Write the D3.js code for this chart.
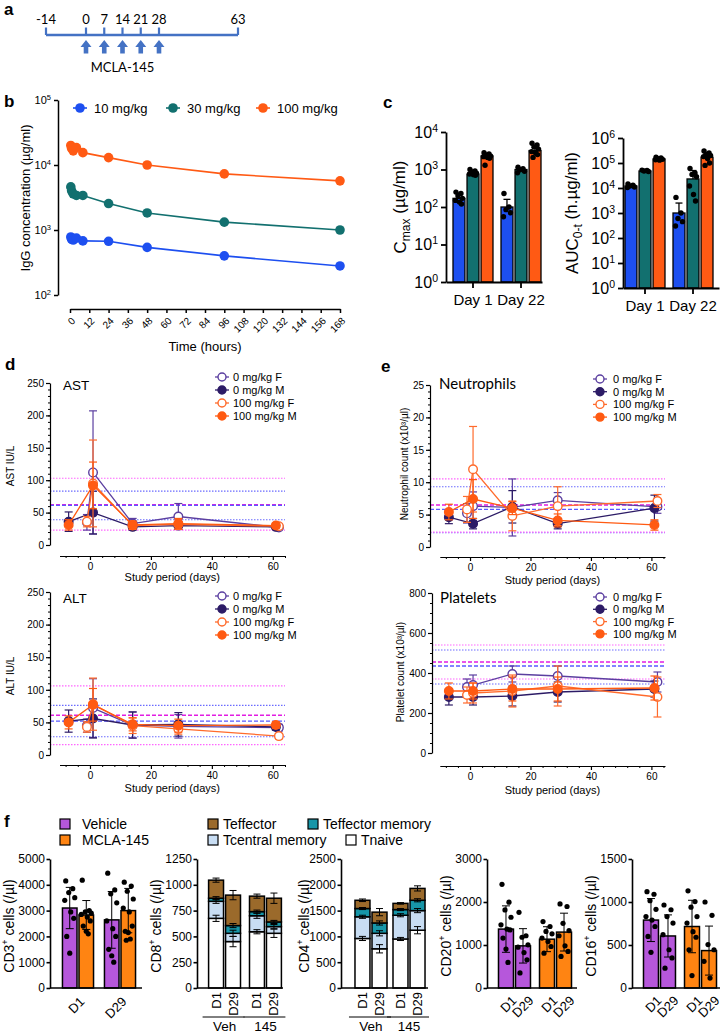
<!DOCTYPE html>
<html>
<head>
<meta charset="utf-8">
<script src="https://cdn.jsdelivr.net/npm/d3@7/dist/d3.min.js"></script>
<style>
html,body{margin:0;padding:0;background:#fff;}
svg{display:block;}
</style>
</head>
<body>
<svg id="fig" width="724" height="1035"></svg>
<script>
// ================= DATA =================
// panel a
const timelineDays = [-14, 0, 7, 14, 21, 28, 63];
const doseDays = [0, 7, 14, 21, 28];
const doseLabel = "MCLA-145";
// panel b
const pkHours = [0.5, 1, 2, 4, 8, 24, 48, 96, 168];
const pkDoses = ["10 mg/kg", "30 mg/kg", "100 mg/kg"];
const pk10 = [780, 720, 700, 750, 680, 670, 540, 400, 280];
const pk30 = [4600, 4000, 3600, 3400, 3400, 2550, 1830, 1320, 1000];
const pk100 = [20000, 18000, 16500, 18500, 15500, 13000, 10000, 7300, 5700];
const timeTicks = [0, 12, 24, 36, 48, 60, 72, 84, 96, 108, 120, 132, 144, 156, 168];
// panel c
const pkDays = ["Day 1", "Day 22"];
const cmaxMean = [[170, 750, 2300], [100, 1000, 3200]];
const cmaxUpper = [[235, 850, 2550], [160, 1100, 3900]];
const cmaxDots = [
  [[250, 230, 200, 170, 150, 135, 120], [1000, 920, 860, 800, 760, 730, 700], [2800, 2600, 2450, 2300, 2200, 2100, 2000, 1300]],
  [[230, 100, 85, 70, 55], [1150, 1050, 980, 900, 820], [5000, 4500, 4000, 3500, 3000, 2800, 2500, 2100]]
];
const aucMean = [[12000, 48000, 145000], [1000, 23000, 170000]];
const aucUpper = [[13500, 51000, 160000], [2500, 50000, 260000]];
const aucDots = [
  [[14500, 13000, 12000, 11000, 10500], [52000, 50000, 48000, 46000], [170000, 160000, 150000, 140000, 135000, 130000]],
  [[4200, 1000, 600, 450, 300], [60000, 40000, 35000, 28000, 12000, 5500, 3000], [300000, 250000, 220000, 200000, 180000, 150000, 100000, 80000]]
];
// panels d / e
const clinGroups = ["0 mg/kg F", "0 mg/kg M", "100 mg/kg F", "100 mg/kg M"];
const daysF = [-1, 1, 14, 29, 62];
const daysM = [-7, 1, 14, 29, 61];
const astMean = [[35, 112, 33, 44, 27], [36, 50, 28, 30, 28], [36, 95, 30, 32, 29], [31, 92, 31, 33, 30]];
const astSd = [[12, 95, 8, 20, 3], [15, 33, 5, 6, 3], [8, 67, 6, 8, 4], [8, 36, 6, 8, 4]];
const altMean = [[45, 72, 46, 44, 42], [52, 56, 46, 47, 43], [43, 78, 45, 40, 29], [50, 77, 47, 45, 46]];
const altSd = [[10, 45, 20, 18, 5], [17, 30, 20, 18, 5], [8, 40, 12, 8, 4], [10, 25, 10, 10, 5]];
const neuMean = [[5.2, 6.3, 6.1, 7.2, 6.2], [4.6, 3.6, 6.2, 3.6, 6.0], [5.8, 12.0, 4.8, 6.3, 7.1], [5.4, 7.4, 6.0, 4.1, 3.4]];
const neuSd = [[1.5, 2.2, 4.4, 1.2, 1.0], [1.0, 0.8, 2.5, 0.8, 2.0], [2.0, 6.6, 2.3, 3.0, 1.0], [1.2, 3.0, 1.0, 1.0, 0.8]];
const pltMean = [[330, 340, 395, 385, 355], [280, 280, 285, 305, 320], [290, 300, 310, 335, 280], [310, 310, 320, 320, 325]];
const pltSd = [[40, 50, 40, 50, 50], [40, 40, 50, 50, 40], [40, 50, 80, 100, 100], [40, 40, 60, 60, 60]];
const refKinds = ["pinkDot", "blueDot", "magDash", "blueDash", "blueDot", "pinkDot"];
const astRef = [103, 83, 62, 61, 39, 23];
const altRef = [106, 76, 61, 52, 28, 16];
const neuRef = [10.5, 9.3, 6.5, 5.8, 2.2, 2.3];
const pltRef = [540, 515, 455, 435, 345, 370];
// panel f
const treatments = ["Vehicle", "MCLA-145"];
const cellTimes = ["D1", "D29"];
const stackGroups = ["Veh", "145"];
const subsets = ["Tnaive", "Tcentral memory", "Teffector memory", "Teffector"];
const cd3Mean = [[3100, 2830], [2640, 3000]];      // [time][treatment]
const cd3Sd = [[800, 560], [1100, 860]];
const cd3Dots = [
  [[4150, 3850, 3700, 3500, 3400, 2950, 2700, 2000, 1350], [4180, 3000, 2950, 2900, 2850, 2750, 2600, 2400, 2200, 2100]],
  [[4450, 3800, 3650, 3300, 2600, 2300, 2000, 1500, 1250, 1000], [4100, 3950, 3750, 3450, 3100, 2950, 2400, 2200, 2150, 1900, 1850]]
];
const cd8Stack = [[675, 165, 30, 175], [450, 80, 75, 295], [545, 155, 40, 150], [530, 65, 45, 230]]; // Veh D1, Veh D29, 145 D1, 145 D29
const cd8Err = [[30, 20, 15, 20], [50, 30, 20, 45], [20, 25, 15, 20], [40, 20, 15, 50]];
const cd4Stack = [[960, 420, 160, 160], [760, 300, 200, 210], [950, 460, 110, 120], [1120, 380, 200, 230]];
const cd4Err = [[40, 30, 20, 25], [80, 50, 40, 70], [30, 30, 20, 15], [70, 40, 30, 50]];
const cd20Mean = [[1370, 980], [1135, 1300]];     // [treatment][time]
const cd20Sd = [[540, 400], [290, 440]];
const cd20Dots = [
  [[2410, 1995, 1815, 1645, 1470, 1370, 1350, 1160, 905, 595], [1760, 1215, 1180, 1005, 950, 825, 655, 350]],
  [[1545, 1430, 1315, 1260, 1160, 1080, 965, 810], [1955, 1895, 1505, 1335, 1215, 980, 850, 735]]
];
const cd16Mean = [[790, 605], [715, 435]];
const cd16Sd = [[250, 245], [305, 285]];
const cd16Dots = [
  [[1120, 1090, 1015, 915, 830, 790, 715, 600, 415], [965, 910, 830, 755, 620, 445, 350, 230]],
  [[1130, 1005, 940, 830, 755, 655, 590, 445, 145], [1000, 845, 505, 445, 310, 115]]
];

// ================= HELPERS =================
const svg = d3.select("#fig");
svg.append("rect").attr("width", 724).attr("height", 1035).attr("fill", "#fff");
const FONT = "'Liberation Sans', Arial, Helvetica, sans-serif";
const CAL = "Lato, 'Noto Sans', sans-serif";
const plain = d3.format("d");

function txt(g, x, y, s, o = {}) {
  return g.append("text").attr("x", x).attr("y", y)
    .attr("font-family", o.family || FONT).attr("font-size", o.size || 12)
    .attr("font-weight", o.weight || "normal").attr("text-anchor", o.anchor || "start")
    .attr("fill", o.fill || "#000").text(s);
}
function rtxt(g, x, y, s, o = {}) {
  return g.append("text").attr("transform", `translate(${x},${y}) rotate(${o.rot || -90})`)
    .attr("font-family", o.family || FONT).attr("font-size", o.size || 12)
    .attr("text-anchor", o.anchor || "middle").attr("fill", "#000").text(s);
}
function styleAxis(ax, fs, sw, fam) {
  ax.attr("font-family", fam || FONT).attr("font-size", fs);
  ax.select(".domain").attr("stroke-width", sw).attr("stroke", "#000");
  ax.selectAll(".tick line").attr("stroke-width", sw).attr("stroke", "#000");
  ax.selectAll(".tick text").attr("fill", "#000");
}
function powTicks(ax, supSize) {
  ax.selectAll(".tick text").each(function (d) {
    const t = d3.select(this);
    t.text("10");
    t.append("tspan").attr("dy", "-0.55em").attr("font-size", supSize).text(Math.round(Math.log10(d)));
  });
}

// panel letters
[["a", 4, 15], ["b", 4, 107], ["c", 383, 108], ["d", 5, 370], ["e", 381, 372], ["f", 4, 827]]
  .forEach(([l, x, y]) => txt(svg, x, y, l, { size: 17, weight: "bold" }));

// ================= PANEL A =================
(function () {
  const g = svg.append("g");
  const blue = "#4472C4";
  const s = d3.scaleLinear().domain([-14, 0, 28, 63]).range([46, 86, 159, 238]);
  g.append("line").attr("x1", s(-14)).attr("x2", s(63)).attr("y1", 35).attr("y2", 35)
    .attr("stroke", blue).attr("stroke-width", 2.6);
  g.selectAll(null).data(timelineDays).join("line")
    .attr("x1", d => s(d)).attr("x2", d => s(d)).attr("y1", 27.5).attr("y2", 35)
    .attr("stroke", blue).attr("stroke-width", 2.2);
  g.selectAll(null).data(timelineDays).join("text")
    .attr("x", d => s(d)).attr("y", 24).attr("text-anchor", "middle")
    .attr("font-family", CAL).attr("font-size", 13).text(d => d);
  g.selectAll(null).data(doseDays).join("path")
    .attr("transform", d => `translate(${s(d)},40)`)
    .attr("d", "M0,0 L5.5,7 L2.3,7 L2.3,13.5 L-2.3,13.5 L-2.3,7 L-5.5,7 Z")
    .attr("fill", blue);
  txt(g, s(14), 72, doseLabel, { family: CAL, size: 13, anchor: "middle" });
})();

// ================= PANEL B =================
const pkColors = ["#1d4ff0", "#12706f", "#ff5a14"];
(function () {
  const g = svg.append("g");
  const bx = d3.scaleLinear().domain([0, 168]).range([70, 340]);
  const by = d3.scaleLog().domain([100, 100000]).range([295, 100]);
  const yAx = g.append("g").attr("transform", "translate(58,0)")
    .call(d3.axisLeft(by).tickValues([1e2, 1e3, 1e4, 1e5]).tickSize(4).tickSizeOuter(0).tickPadding(3));
  styleAxis(yAx, 11, 1.5); powTicks(yAx, 7.5);
  const xAx = g.append("g").attr("transform", "translate(0,309)")
    .call(d3.axisBottom(bx).tickValues(timeTicks).tickSize(4).tickSizeOuter(0));
  styleAxis(xAx, 10, 1.5);
  xAx.selectAll(".tick text").attr("x", 0).attr("y", 0).attr("dy", "0.35em")
    .attr("text-anchor", "end").attr("transform", "translate(3,10) rotate(-45)");
  [pk10, pk30, pk100].forEach((vals, si) => {
    const pts = pkHours.map((h, i) => [bx(h), by(vals[i])]);
    g.append("path").attr("d", d3.line()(pts)).attr("fill", "none")
      .attr("stroke", pkColors[si]).attr("stroke-width", 1.6);
    g.selectAll(null).data(pts).join("circle").attr("cx", p => p[0]).attr("cy", p => p[1])
      .attr("r", 4.8).attr("fill", pkColors[si]);
  });
  const legX = [80, 173, 263];
  pkDoses.forEach((d, i) => {
    g.append("line").attr("x1", legX[i] - 7).attr("x2", legX[i] + 7).attr("y1", 108).attr("y2", 108)
      .attr("stroke", pkColors[i]).attr("stroke-width", 1.6);
    g.append("circle").attr("cx", legX[i]).attr("cy", 108).attr("r", 4.8).attr("fill", pkColors[i]);
    txt(g, legX[i] + 14, 112.5, d, { size: 13 });
  });
  rtxt(g, 30, 198, "IgG concentration (µg/ml)", { size: 13 });
  txt(g, 205, 351, "Time (hours)", { size: 13, anchor: "middle" });
})();

// ================= PANEL C =================
function drawLogBars(cfg) {
  const g = svg.append("g");
  const y = d3.scaleLog().domain([1, cfg.max]).range([cfg.yBottom, cfg.yTop]);
  const x0 = d3.scaleBand().domain(pkDays).range([cfg.axisX, cfg.xEnd])
    .paddingInner(0.167).paddingOuter(0.0833).align(cfg.align);
  const x1 = d3.scaleBand().domain(pkDoses).range([0, x0.bandwidth()]).paddingInner(0.15);
  const offs = [-3, 2, -1, 3.5, -3.5, 0.5, 2.5, -2, 1];
  pkDays.forEach((day, di) => {
    pkDoses.forEach((dose, ki) => {
      const bx0 = x0(day) + x1(dose), w = x1.bandwidth(), cx = bx0 + w / 2;
      const m = cfg.mean[di][ki], up = cfg.upper[di][ki];
      g.append("line").attr("x1", cx).attr("x2", cx).attr("y1", y(m)).attr("y2", y(up))
        .attr("stroke", "#000").attr("stroke-width", 1.3);
      g.append("line").attr("x1", cx - 3.5).attr("x2", cx + 3.5).attr("y1", y(up)).attr("y2", y(up))
        .attr("stroke", "#000").attr("stroke-width", 1.3);
      g.append("rect").attr("x", bx0).attr("y", y(m)).attr("width", w).attr("height", cfg.yBottom - y(m))
        .attr("fill", pkColors[ki]).attr("stroke", "#000").attr("stroke-width", 1.3);
      g.selectAll(null).data(cfg.dots[di][ki]).join("circle")
        .attr("cx", (d, i) => cx + offs[i % offs.length]).attr("cy", d => y(d))
        .attr("r", 2.7).attr("fill", "#000");
    });
  });
  const yAx = g.append("g").attr("transform", `translate(${cfg.axisX},0)`)
    .call(d3.axisLeft(y).tickValues(cfg.ticks).tickSize(5).tickSizeOuter(0).tickPadding(3));
  styleAxis(yAx, 16, 1.8); powTicks(yAx, 10.5);
  const xAx = g.append("g").attr("transform", `translate(0,${cfg.yBottom})`)
    .call(d3.axisBottom(x0).tickSize(6).tickSizeOuter(0).tickPadding(5));
  styleAxis(xAx, 15, 1.8);
  xAx.selectAll(".tick text").attr("dy", "0.8em");
  return g;
}
(function () {
  const g1 = drawLogBars({ axisX: 446, xEnd: 542, yTop: 132, yBottom: 282, max: 1e4, align: 0.875,
    ticks: [1, 10, 100, 1000, 10000], mean: cmaxMean, upper: cmaxUpper, dots: cmaxDots });
  const t1 = g1.append("text").attr("transform", "translate(406,207) rotate(-90)").attr("text-anchor", "middle")
    .attr("font-family", FONT).attr("font-size", 17);
  t1.append("tspan").text("C");
  t1.append("tspan").attr("font-size", 12).attr("dy", "0.3em").text("max");
  t1.append("tspan").attr("dy", "-0.3em").text(" (µg/ml)");
  const g2 = drawLogBars({ axisX: 623, xEnd: 719, yTop: 138, yBottom: 288, max: 1e6, align: 0.25,
    ticks: [1, 10, 100, 1000, 1e4, 1e5, 1e6], mean: aucMean, upper: aucUpper, dots: aucDots });
  const t2 = g2.append("text").attr("transform", "translate(578,213) rotate(-90)").attr("text-anchor", "middle")
    .attr("font-family", FONT).attr("font-size", 17);
  t2.append("tspan").text("AUC");
  t2.append("tspan").attr("font-size", 12).attr("dy", "0.3em").text("0-t");
  t2.append("tspan").attr("dy", "-0.3em").text(" (h.µg/ml)");
})();

// ================= PANELS D / E =================
const clinColors = ["#5b3fa0", "#2c1b66", "#ff6b2c", "#ff5a12"];
const clinFilled = [false, true, false, true];
const refStyles = {
  pinkDot: { c: "#ff66ff", w: 1.2, d: "1.5,1.5" },
  blueDot: { c: "#6b6bff", w: 1.2, d: "1.5,1.5" },
  magDash: { c: "#e21ee2", w: 1.5, d: "4,2" },
  blueDash: { c: "#5a5aff", w: 1.3, d: "4,2" }
};
function drawClin(c) {
  const g = svg.append("g");
  const xr = c.x.range();
  c.refs.forEach((v, i) => {
    const st = refStyles[refKinds[i]];
    g.append("line").attr("x1", c.yAxisX).attr("x2", xr[1]).attr("y1", c.y(v)).attr("y2", c.y(v))
      .attr("stroke", st.c).attr("stroke-width", st.w).attr("stroke-dasharray", st.d);
  });
  const yAx = g.append("g").attr("transform", `translate(${c.yAxisX},0)`)
    .call(d3.axisLeft(c.y).tickValues(c.yMajor).tickSize(4).tickSizeOuter(0).tickPadding(2));
  styleAxis(yAx, 10, 1.2);
  const yMin = g.append("g").attr("transform", `translate(${c.yAxisX},0)`)
    .call(d3.axisLeft(c.y).tickValues(c.yMinor).tickSize(2).tickFormat(""));
  yMin.select(".domain").remove(); yMin.selectAll(".tick line").attr("stroke-width", 1);
  const xAx = g.append("g").attr("transform", `translate(0,${c.xAxisY})`)
    .call(d3.axisBottom(c.x).tickValues([0, 20, 40, 60]).tickSize(4).tickSizeOuter(0).tickPadding(3));
  styleAxis(xAx, 10, 1.2);
  const xMin = g.append("g").attr("transform", `translate(0,${c.xAxisY})`)
    .call(d3.axisBottom(c.x).tickValues([-8, -4, 4, 8, 12, 16, 24, 28, 32, 36, 44, 48, 52, 56, 64]).tickSize(2).tickFormat(""));
  xMin.select(".domain").remove(); xMin.selectAll(".tick line").attr("stroke-width", 1);

  clinGroups.forEach((name, si) => {
    const days = si % 2 === 0 ? daysF : daysM;
    const m = c.means[si], s = c.sds[si], col = clinColors[si];
    const pts = days.map((d, i) => ({ x: c.x(d), y: c.y(m[i]), hi: c.y(m[i] + s[i]), lo: c.y(Math.max(0, m[i] - s[i])) }));
    pts.forEach(p => {
      g.append("line").attr("x1", p.x).attr("x2", p.x).attr("y1", p.lo).attr("y2", p.hi)
        .attr("stroke", col).attr("stroke-width", 1.2);
      [p.lo, p.hi].forEach(yy => g.append("line").attr("x1", p.x - 4).attr("x2", p.x + 4)
        .attr("y1", yy).attr("y2", yy).attr("stroke", col).attr("stroke-width", 1.2));
    });
    g.append("path").attr("d", d3.line().x(p => p.x).y(p => p.y)(pts)).attr("fill", "none")
      .attr("stroke", col).attr("stroke-width", 1.3);
    g.selectAll(null).data(pts).join("circle").attr("cx", p => p.x).attr("cy", p => p.y).attr("r", 4.3)
      .attr("fill", clinFilled[si] ? col : "#fff").attr("stroke", col).attr("stroke-width", 1.4);
    const ly = c.legY + si * c.legDy;
    g.append("line").attr("x1", c.legX - 7).attr("x2", c.legX + 7).attr("y1", ly).attr("y2", ly)
      .attr("stroke", col).attr("stroke-width", 1.3);
    g.append("circle").attr("cx", c.legX).attr("cy", ly).attr("r", 4)
      .attr("fill", clinFilled[si] ? col : "#fff").attr("stroke", col).attr("stroke-width", 1.4);
    txt(g, c.legTX, ly + 4, name, { size: 11 });
  });
  txt(g, c.titleX, c.titleY, c.title, { size: c.titleSize, family: c.titleFam });
  rtxt(g, c.ylabX, c.ylabY, c.ylab, { size: 10 });
  txt(g, (xr[0] + xr[1]) / 2, c.xlabY, "Study period (days)", { size: 11, anchor: "middle" });
}
const xd = d3.scaleLinear().domain([-10, 64]).range([59.5, 285]);
const xe = d3.scaleLinear().domain([-10, 64.5]).range([439.8, 665]);
drawClin({ x: xd, y: d3.scaleLinear().domain([0, 250]).range([545, 383]), yAxisX: 50, xAxisY: 556,
  yMajor: [0, 50, 100, 150, 200, 250], yMinor: d3.range(10, 250, 10),
  means: astMean, sds: astSd, refs: astRef, legX: 222, legTX: 233, legY: 377, legDy: 13,
  title: "AST", titleX: 63, titleY: 390, titleSize: 13.5, titleFam: FONT,
  ylab: "AST IU/L", ylabX: 14, ylabY: 466, xlabY: 581 });
drawClin({ x: xd, y: d3.scaleLinear().domain([0, 250]).range([755, 592]), yAxisX: 50, xAxisY: 765,
  yMajor: [0, 50, 100, 150, 200, 250], yMinor: d3.range(10, 250, 10),
  means: altMean, sds: altSd, refs: altRef, legX: 222, legTX: 233, legY: 596, legDy: 13,
  title: "ALT", titleX: 63, titleY: 603, titleSize: 13.5, titleFam: FONT,
  ylab: "ALT IU/L", ylabX: 14, ylabY: 676, xlabY: 792 });
drawClin({ x: xe, y: d3.scaleLinear().domain([0, 25]).range([547, 385]), yAxisX: 430, xAxisY: 557,
  yMajor: [0, 5, 10, 15, 20, 25], yMinor: d3.range(1, 25, 1),
  means: neuMean, sds: neuSd, refs: neuRef, legX: 600, legTX: 613, legY: 379, legDy: 12.7,
  title: "Neutrophils", titleX: 439, titleY: 389, titleSize: 15, titleFam: CAL,
  ylab: "Neutrophil count (x10³/µl)", ylabX: 408, ylabY: 464, xlabY: 584 });
drawClin({ x: xe, y: d3.scaleLinear().domain([0, 800]).range([753, 593]), yAxisX: 432, xAxisY: 766,
  yMajor: [0, 200, 400, 600, 800], yMinor: d3.range(50, 800, 50),
  means: pltMean, sds: pltSd, refs: pltRef, legX: 600, legTX: 613, legY: 597, legDy: 12.3,
  title: "Platelets", titleX: 440, titleY: 603, titleSize: 15, titleFam: CAL,
  ylab: "Platelet count (x10³/µl)", ylabX: 404, ylabY: 672, xlabY: 794 });

// ================= PANEL F =================
const treatColors = ["#b657db", "#ff8412"];
const subsetColors = ["#ffffff", "#c8ddf3", "#1796a8", "#9b6a2b"];
const F_TOP = 859, F_BOT = 988;

function cellYLabel(g, x, marker) {
  const t = g.append("text").attr("transform", `translate(${x},926) rotate(-90)`).attr("text-anchor", "middle")
    .attr("font-family", FONT).attr("font-size", 14);
  t.append("tspan").text(marker);
  t.append("tspan").attr("font-size", 9).attr("dy", "-0.7em").text("+");
  t.append("tspan").attr("dy", "0.45em").text(" cells (/µl)");
}
function fAxes(g, y, ticks, axisX, xEnd) {
  const yAx = g.append("g").attr("transform", `translate(${axisX},0)`)
    .call(d3.axisLeft(y).tickValues(ticks).tickFormat(plain).tickSize(3.5).tickSizeOuter(0).tickPadding(1.5));
  styleAxis(yAx, 12, 1.6);
  g.append("line").attr("x1", axisX).attr("x2", xEnd).attr("y1", F_BOT).attr("y2", F_BOT)
    .attr("stroke", "#000").attr("stroke-width", 1.6);
}
function errBar(g, cx, yHi, yLo, half) {
  g.append("line").attr("x1", cx).attr("x2", cx).attr("y1", yLo).attr("y2", yHi).attr("stroke", "#000").attr("stroke-width", 1);
  [yHi, yLo].forEach(v => g.append("line").attr("x1", cx - half).attr("x2", cx + half).attr("y1", v).attr("y2", v)
    .attr("stroke", "#000").attr("stroke-width", 1));
}
function drawDotBar(c) {
  const g = svg.append("g");
  const y = d3.scaleLinear().domain([0, c.max]).range([F_BOT, F_TOP]);
  const x0 = d3.scaleBand().domain(c.outer).range(c.xr).paddingInner(c.pi).paddingOuter(c.po);
  const x1 = d3.scaleBand().domain(c.inner).range([0, x0.bandwidth()]).paddingInner(0.12);
  const offs = [-4, 3, -1, 5, -5, 1, 4, -3, 0, 2, -2];
  c.outer.forEach((o, oi) => {
    c.inner.forEach((n, ni) => {
      const bx0 = x0(o) + x1(n), w = x1.bandwidth(), cx = bx0 + w / 2;
      const m = c.mean[oi][ni], s = c.sd[oi][ni];
      const col = c.colorBy === "inner" ? treatColors[ni] : treatColors[oi];
      g.append("rect").attr("x", bx0).attr("y", y(m)).attr("width", w).attr("height", F_BOT - y(m))
        .attr("fill", col).attr("stroke", "#000").attr("stroke-width", 1.5);
      errBar(g, cx, y(m + s), y(Math.max(0, m - s)), 4);
      g.selectAll(null).data(c.dots[oi][ni]).join("circle")
        .attr("cx", (d, i) => cx + offs[i % offs.length]).attr("cy", d => y(d)).attr("r", 2.6).attr("fill", "#000");
      if (c.labelMode === "bar") {
        g.append("text").attr("transform", `translate(${cx + 5},${F_BOT + 7}) rotate(-45)`)
          .attr("text-anchor", "end").attr("dy", "0.7em").attr("font-family", FONT).attr("font-size", 13).text(n);
      }
    });
    if (c.labelMode === "group") {
      const gc = x0(o) + x0.bandwidth() / 2;
      g.append("text").attr("transform", `translate(${gc + 1},${F_BOT + 8}) rotate(-45)`)
        .attr("text-anchor", "end").attr("dy", "0.7em").attr("font-family", FONT).attr("font-size", 13).text(o);
    }
  });
  fAxes(g, y, c.ticks, c.axisX, c.xEnd);
  cellYLabel(g, c.labX, c.marker);
}
function drawStack(c) {
  const g = svg.append("g");
  const y = d3.scaleLinear().domain([0, c.max]).range([F_BOT, F_TOP]);
  const x0 = d3.scaleBand().domain(stackGroups).range(c.xr).paddingInner(c.pi).paddingOuter(0.21);
  const x1 = d3.scaleBand().domain(cellTimes).range([0, x0.bandwidth()]).paddingInner(0.12);
  const rows = c.data.map((vals, i) => {
    const r = { grp: stackGroups[Math.floor(i / 2)], time: cellTimes[i % 2] };
    subsets.forEach((k, j) => r[k] = vals[j]);
    return r;
  });
  const series = d3.stack().keys(subsets)(rows);
  series.forEach((ser, j) => {
    g.selectAll(null).data(ser).join("rect")
      .attr("x", d => x0(d.data.grp) + x1(d.data.time)).attr("width", x1.bandwidth())
      .attr("y", d => y(d[1])).attr("height", d => y(d[0]) - y(d[1]))
      .attr("fill", subsetColors[j]).attr("stroke", "#000").attr("stroke-width", 1.5);
  });
  series.forEach((ser, j) => {
    ser.forEach((d, i) => {
      const cx = x0(d.data.grp) + x1(d.data.time) + x1.bandwidth() / 2;
      const e = c.err[i][j];
      errBar(g, cx, y(d[1] + e), y(d[1] - e), 3.5);
    });
  });
  rows.forEach(r => {
    const cx = x0(r.grp) + x1(r.time) + x1.bandwidth() / 2;
    g.append("text").attr("transform", `translate(${cx + 4.5},${F_BOT + 4}) rotate(-90)`)
      .attr("text-anchor", "end").attr("font-family", FONT).attr("font-size", 13).text(r.time);
  });
  stackGroups.forEach(sg => {
    g.append("line").attr("x1", x0(sg) - 6).attr("x2", x0(sg) + x0.bandwidth() + 4).attr("y1", 1017).attr("y2", 1017)
      .attr("stroke", "#000").attr("stroke-width", 1);
    txt(g, x0(sg) + x0.bandwidth() / 2, 1031, sg, { size: 13.5, anchor: "middle" });
  });
  fAxes(g, y, c.ticks, c.axisX, c.xEnd);
  cellYLabel(g, c.labX, c.marker);
}

drawDotBar({ outer: cellTimes, inner: treatments, colorBy: "inner", labelMode: "group",
  xr: [57, 141], pi: 0.26, po: 0.13, max: 5000, ticks: [0, 1000, 2000, 3000, 4000, 5000],
  mean: cd3Mean, sd: cd3Sd, dots: cd3Dots, axisX: 50, xEnd: 142, labX: 14, marker: "CD3" });
drawStack({ data: cd8Stack, err: cd8Err, xr: [200, 290], pi: 0.22, max: 1250,
  ticks: [0, 250, 500, 750, 1000, 1250], axisX: 197, xEnd: 283, labX: 161, marker: "CD8" });
drawStack({ data: cd4Stack, err: cd4Err, xr: [347, 433], pi: 0.158, max: 2500,
  ticks: [0, 500, 1000, 1500, 2000, 2500], axisX: 341, xEnd: 428, labX: 309, marker: "CD4" });
drawDotBar({ outer: treatments, inner: cellTimes, colorBy: "outer", labelMode: "bar",
  xr: [490, 580], pi: 0.22, po: 0.207, max: 3000, ticks: [0, 1000, 2000, 3000],
  mean: cd20Mean, sd: cd20Sd, dots: cd20Dots, axisX: 487, xEnd: 577, labX: 451, marker: "CD20" });
drawDotBar({ outer: treatments, inner: cellTimes, colorBy: "outer", labelMode: "bar",
  xr: [635, 725], pi: 0.22, po: 0.207, max: 1500, ticks: [0, 500, 1000, 1500],
  mean: cd16Mean, sd: cd16Sd, dots: cd16Dots, axisX: 632, xEnd: 720, labX: 596, marker: "CD16" });

// legends f
(function () {
  const g = svg.append("g");
  treatments.forEach((t, i) => {
    g.append("rect").attr("x", 60).attr("y", 819 + i * 16).attr("width", 10).attr("height", 10)
      .attr("fill", treatColors[i]).attr("stroke", "#000").attr("stroke-width", 1.2);
    txt(g, 82, 828.5 + i * 16, t, { size: 14 });
  });
  const legOrder = [3, 2, 1, 0];
  const lx = [208, 308, 208, 346], lyy = [819, 819, 835, 835];
  legOrder.forEach((k, i) => {
    g.append("rect").attr("x", lx[i]).attr("y", lyy[i]).attr("width", 10).attr("height", 10)
      .attr("fill", subsetColors[k]).attr("stroke", "#000").attr("stroke-width", 1.2);
    txt(g, lx[i] + 15, lyy[i] + 9.5, subsets[k], { size: 14 });
  });
})();
</script>
</body>
</html>
